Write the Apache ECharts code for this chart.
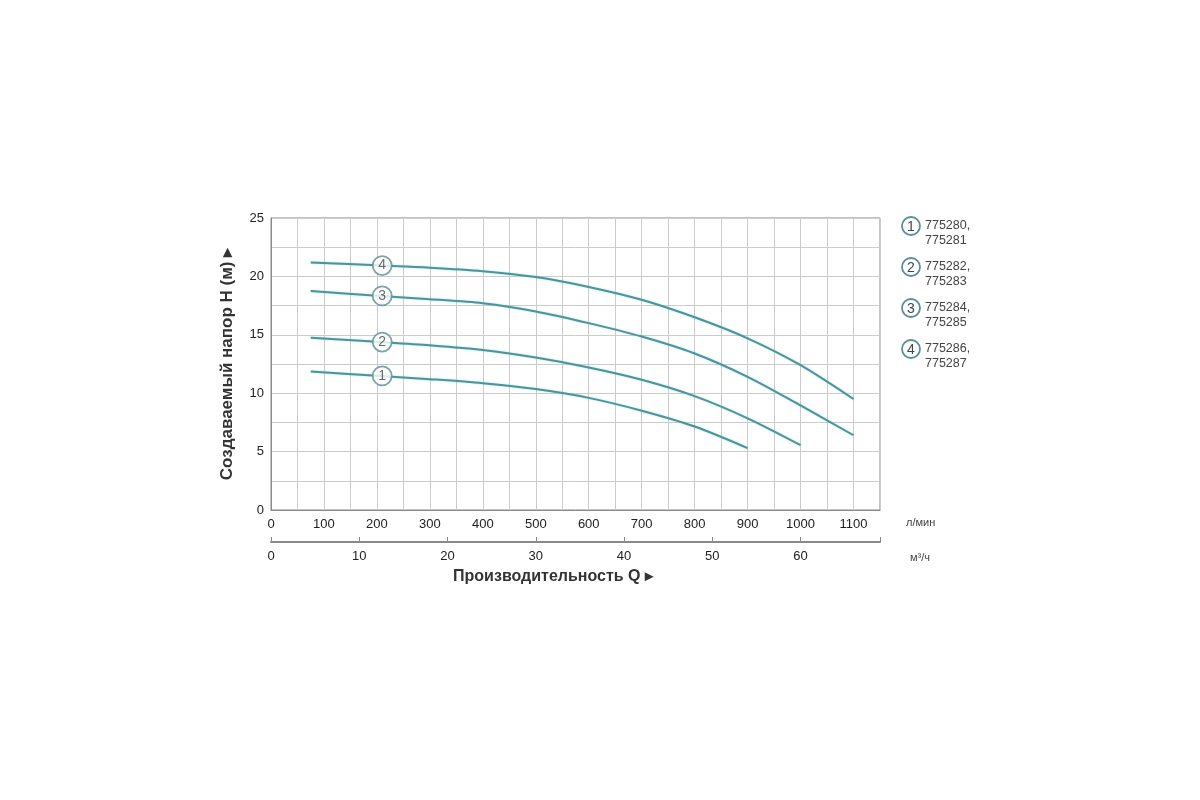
<!DOCTYPE html>
<html>
<head>
<meta charset="utf-8">
<script src="https://cdn.jsdelivr.net/npm/echarts@6/dist/echarts.min.js"></script>
<style>
  html, body { margin: 0; padding: 0; background: #fff; }
  #main { width: 1200px; height: 800px; }
</style>
</head>
<body>
<div id="main"></div>
<script>
// подача, л/мин
const flowLpm = [75, 200, 300, 400, 500, 600, 700, 800, 900, 1000, 1100];
// напор, м
const head1 = [11.85, 11.5, 11.2, 10.85, 10.35, 9.6, 8.5, 7.15, 5.3];
const head2 = [14.75, 14.4, 14.1, 13.7, 13.05, 12.2, 11.15, 9.75, 7.85, 5.55];
const head3 = [18.75, 18.35, 18.05, 17.7, 17.0, 16.0, 14.85, 13.4, 11.4, 8.95, 6.4];
const head4 = [21.2, 20.95, 20.75, 20.45, 19.95, 19.1, 18.0, 16.5, 14.7, 12.4, 9.5];
const curveNames = ['1', '2', '3', '4'];
const legendLines = [['775280,', '775281'], ['775282,', '775283'], ['775284,', '775285'], ['775286,', '775287']];
// номера кривых
const markerQ = 210;
const markerHead = [11.48, 14.38, 18.33, 20.93];

const teal = '#4a959c';
const font = 'Liberation Sans, Arial, sans-serif';

var myChart = echarts.init(document.getElementById('main'));

const heads = [head1, head2, head3, head4];
const lineSeries = heads.map((h, i) => ({
  name: curveNames[i],
  type: 'line',
  xAxisIndex: 0,
  smooth: 0.3,
  symbol: 'none',
  lineStyle: { color: teal, width: 2, shadowColor: 'rgba(120,200,210,0.6)', shadowBlur: 2 },
  data: h.map((v, k) => [flowLpm[k], v]),
  z: 3
}));

const markerSeries = {
  type: 'scatter',
  xAxisIndex: 0,
  symbol: 'circle',
  symbolSize: 19,
  itemStyle: { color: '#fff', borderColor: '#5b8f95', borderWidth: 1.8 },
  label: {
    show: true, position: 'inside', color: '#3a4a4c', fontSize: 14, fontFamily: font,
    formatter: p => curveNames[p.dataIndex]
  },
  data: markerHead.map(v => [markerQ, v]),
  z: 5
};

const legendGraphics = [];
legendLines.forEach((lines, i) => {
  const y = 226 + i * 41;
  legendGraphics.push({
    type: 'circle', shape: { cx: 911, cy: y, r: 9 },
    style: { fill: '#fff', stroke: '#5b8f95', lineWidth: 1.8 }
  });
  legendGraphics.push({
    type: 'text', x: 911, y: y + 1, style: {
      text: curveNames[i], fill: '#3a4a4c', font: '14px ' + font, align: 'center', verticalAlign: 'middle'
    }
  });
  legendGraphics.push({
    type: 'text', x: 925, y: y, style: {
      text: lines[0], fill: '#444', font: '12.5px ' + font, verticalAlign: 'middle'
    }
  });
  legendGraphics.push({
    type: 'text', x: 925, y: y + 15, style: {
      text: lines[1], fill: '#444', font: '12.5px ' + font, verticalAlign: 'middle'
    }
  });
});

var option = {
  animation: false,
  backgroundColor: '#fff',
  grid: {
    left: 271, right: 320, top: 218, bottom: 290,
    show: true, borderColor: '#8a8a8a', borderWidth: 1
  },
  xAxis: [
    {
      type: 'value', min: 0, max: 1150, interval: 50,
      axisLine: { show: true, onZero: false, lineStyle: { color: '#8a8a8a' } },
      axisTick: { show: false },
      splitLine: { show: true, lineStyle: { color: '#cccccc', width: 1 } },
      axisLabel: {
        color: '#222', fontSize: 13, fontFamily: font, margin: 8,
        formatter: v => (v % 100 === 0 && v <= 1100) ? String(v) : ''
      }
    },
    {
      type: 'value', min: 0, max: 69, interval: 10, position: 'bottom', offset: 32,
      axisLine: { show: true, onZero: false, lineStyle: { color: '#8a8a8a', width: 2 } },
      axisTick: { show: true, inside: true, length: 5, lineStyle: { color: '#8a8a8a' } },
      splitLine: { show: false },
      axisLabel: {
        color: '#222', fontSize: 13, fontFamily: font, margin: 8,
        formatter: v => (v % 10 === 0) ? String(v) : ''
      }
    }
  ],
  yAxis: {
    type: 'value', min: 0, max: 25, interval: 2.5,
    name: 'Создаваемый напор H (м) ▸',
    nameLocation: 'middle', nameGap: 35, nameRotate: 90,
    nameTextStyle: { color: '#333', fontSize: 17, fontWeight: 'bold', fontFamily: font },
    axisLine: { show: true, lineStyle: { color: '#8a8a8a' } },
    axisTick: { show: false },
    splitLine: { show: true, lineStyle: { color: '#cccccc', width: 1 } },
    axisLabel: {
      color: '#222', fontSize: 13, fontFamily: font, margin: 7,
      formatter: v => (v % 5 === 0) ? String(v) : ''
    }
  },
  graphic: [
    { type: 'text', x: 906, y: 523, style: { text: 'л/мин', fill: '#444', font: '11px ' + font, verticalAlign: 'middle' } },
    { type: 'text', x: 910, y: 558, style: { text: 'м³/ч', fill: '#444', font: '11px ' + font, verticalAlign: 'middle' } },
    { type: 'text', x: 553, y: 577, style: {
      text: 'Производительность Q ▸', fill: '#333', font: 'bold 16px ' + font,
      align: 'center', verticalAlign: 'middle'
    } }
  ].concat(legendGraphics),
  series: lineSeries.concat([markerSeries])
};

option && myChart.setOption(option);
</script>
</body>
</html>
